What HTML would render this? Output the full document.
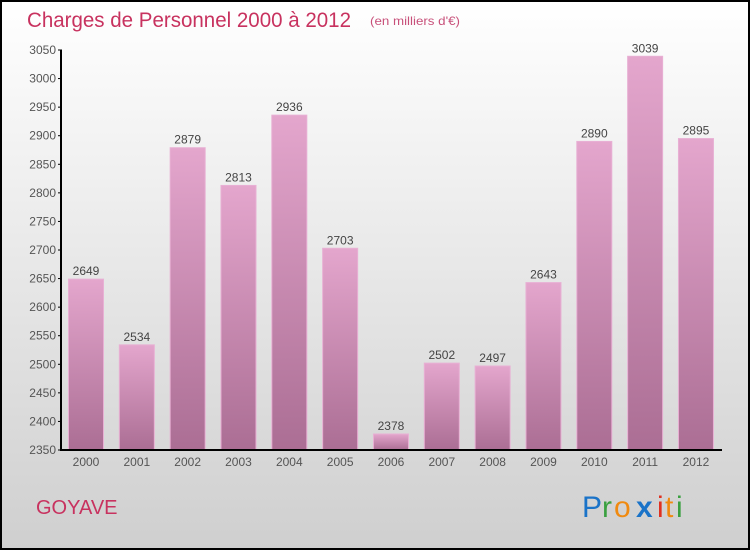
<!DOCTYPE html>
<html><head><meta charset="utf-8"><style>
body{margin:0;width:750px;height:550px;overflow:hidden}
svg{display:block}
text{font-family:"Liberation Sans",sans-serif}
</style></head><body>
<svg id="c" width="750" height="550">
<defs>
<linearGradient id="bg" x1="0" y1="0" x2="0" y2="1"><stop offset="0" stop-color="#ffffff"/><stop offset="1" stop-color="#cfcfcf"/></linearGradient>
<linearGradient id="bar" x1="0" y1="0" x2="0" y2="1"><stop offset="0" stop-color="#e4a6cd"/><stop offset="1" stop-color="#ab6e94"/></linearGradient>
</defs>
<rect x="1" y="1" width="748" height="548" fill="url(#bg)" stroke="#000" stroke-width="2"/>
<text x="27" y="27" font-size="21" fill="#c8325f" textLength="324" lengthAdjust="spacingAndGlyphs">Charges de Personnel 2000 à 2012</text>
<text x="370" y="25" font-size="12" fill="#c8507a" textLength="90" lengthAdjust="spacingAndGlyphs">(en milliers d'€)</text>
<text x="36" y="514" font-size="20" fill="#c8325f">GOYAVE</text>
<g font-size="30">
<text x="582" y="517" fill="#1a73c8">P</text><text x="602" y="517" fill="#3aa040">r</text><text x="614" y="517" fill="#f08a10">o</text><text x="636" y="517" fill="#1a73c8" font-weight="bold">x</text><text x="657" y="517" fill="#e03020">i</text><text x="665" y="517" fill="#f08a10">t</text><text x="676" y="517" fill="#3aa040">i</text>
</g>
<g id="plot"></g>
</svg>
<script>
const categories=["2000","2001","2002","2003","2004","2005","2006","2007","2008","2009","2010","2011","2012"];
const values=[2649,2534,2879,2813,2936,2703,2378,2502,2497,2643,2890,3039,2895];
const yTicks=[2350,2400,2450,2500,2550,2600,2650,2700,2750,2800,2850,2900,2950,3000,3050];
const NS="http://www.w3.org/2000/svg";
const g=document.getElementById('plot');
const y=v=>450-(v-2350)*400/700;
const x=i=>86+i*50.83;
function mk(t,a,p){const e=document.createElementNS(NS,t);for(const k in a)e.setAttribute(k,a[k]);(p||g).appendChild(e);return e;}
values.forEach((v,i)=>{
  const r=mk('rect',{x:x(i)-17.5,y:y(v),width:35,height:450-y(v),fill:'url(#bar)',stroke:'#e8b0d4','stroke-width':1});
  
  
  const t=mk('text',{x:x(i),y:y(v)-4,'text-anchor':'middle','font-size':12,fill:'#444'});
  t.textContent=v;
  
  
  const c=mk('text',{x:x(i),y:466,'text-anchor':'middle','font-size':12,fill:'#555'});
  c.textContent=categories[i];
  
  
});
yTicks.forEach(v=>{
  mk('line',{x1:58,x2:62,y1:y(v),y2:y(v),stroke:'#000'});
  const t=mk('text',{x:56,y:y(v)+4,'text-anchor':'end','font-size':12,fill:'#555'});
  t.textContent=v;
  
  
});
const ya=mk('line',{x1:61,x2:61,y1:50,y2:451,stroke:'#000','stroke-width':2});


const xa=mk('line',{x1:60,x2:722,y1:450,y2:450,stroke:'#000','stroke-width':2});


</script>
</body></html>
